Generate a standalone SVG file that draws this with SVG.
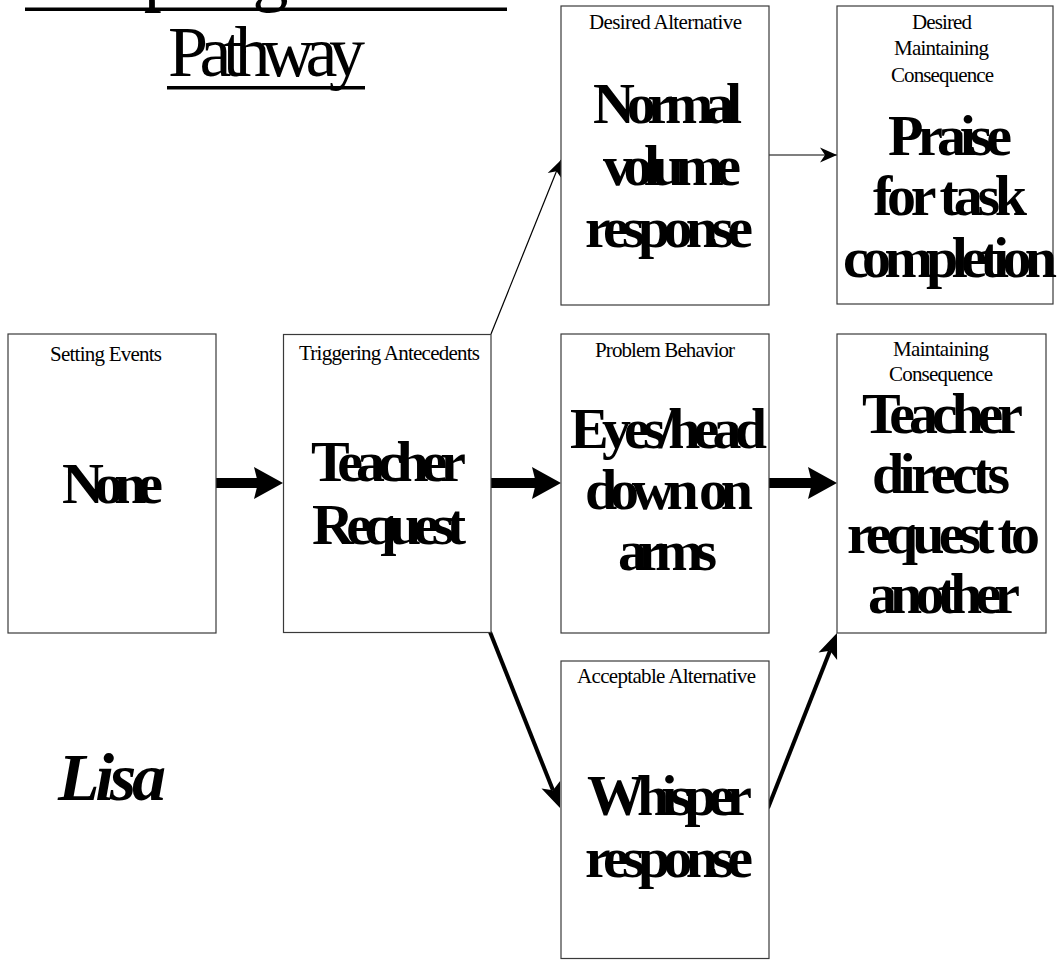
<svg xmlns="http://www.w3.org/2000/svg" width="1058" height="960" viewBox="0 0 1058 960">
  <style>
    .box { fill: #ffffff; stroke: #3a3a3a; stroke-width: 1.2; }
    .lbl { font-family: "Liberation Serif", "Times New Roman", serif; font-size: 21px; fill: #000; }
    .big { font-family: "Liberation Serif", "Times New Roman", serif; font-size: 58px; font-weight: bold; fill: #000; }
    .title { font-family: "Liberation Serif", "Times New Roman", serif; font-size: 72px; fill: #000; }
    .name { font-family: "Liberation Serif", "Times New Roman", serif; font-size: 68px; font-weight: bold; font-style: italic; fill: #000; }
    .thin { stroke: #000; stroke-width: 1.2; fill: none; marker-end: url(#headThin); }
    .mid { stroke: #000; stroke-width: 4; fill: none; marker-end: url(#headMid); }
    .thick { stroke: #000; stroke-width: 10; fill: none; marker-end: url(#headThick); }
  </style>
  <defs>
    <marker id="headThin" markerUnits="userSpaceOnUse" markerWidth="17" markerHeight="15" refX="17" refY="7.5" orient="auto" overflow="visible">
      <path d="M0,0 L17,7.5 L0,15 L5,7.5 z" fill="#000"/>
    </marker>
    <marker id="headMid" markerUnits="userSpaceOnUse" markerWidth="25" markerHeight="20" refX="6" refY="10" orient="auto" overflow="visible">
      <path d="M0,0 L25,10 L0,20 L6,10 z" fill="#000"/>
    </marker>
    <marker id="headThick" markerUnits="userSpaceOnUse" markerWidth="29" markerHeight="32" refX="4" refY="16" orient="auto" overflow="visible">
      <path d="M0,0 L29,16 L0,32 L4,16 z" fill="#000"/>
    </marker>
  </defs>

  <rect width="1058" height="960" fill="#ffffff"/>

  <!-- title, top line runs off the page -->
  <g id="title">
    <text class="title" x="25" y="-2" textLength="482" lengthAdjust="spacing">Competing Behavior</text>
    <rect x="25" y="7.5" width="482" height="3.5" fill="#000"/>
    <text class="title" x="168" y="76" textLength="197" lengthAdjust="spacing">Pathway</text>
    <rect x="167" y="86" width="198" height="3.5" fill="#000"/>
  </g>

  <g id="student">
    <text class="name" x="58" y="800" textLength="108" lengthAdjust="spacing">Lisa</text>
  </g>

  <g id="connectors">
    <line class="thick" x1="216" y1="483" x2="258" y2="483"/>
    <line class="thick" x1="491" y1="483" x2="536" y2="483"/>
    <line class="thick" x1="769" y1="483" x2="812" y2="483"/>
    <line class="thin" x1="491" y1="334" x2="561" y2="160"/>
    <line class="thin" x1="769" y1="155" x2="837" y2="155"/>
    <line class="mid" x1="490" y1="632" x2="553" y2="790.3"/>
    <line class="mid" x1="768" y1="808" x2="830" y2="650.7"/>
  </g>

  <g id="setting-events">
    <rect class="box" x="8" y="334" width="208" height="299"/>
    <text class="lbl" x="50" y="361" textLength="112" lengthAdjust="spacing">Setting Events</text>
    <text class="big" x="62" y="503" textLength="101" lengthAdjust="spacing">None</text>
  </g>

  <g id="triggering-antecedents">
    <rect class="box" x="283.5" y="334.5" width="207.5" height="298"/>
    <text class="lbl" x="299" y="360" textLength="181" lengthAdjust="spacing">Triggering Antecedents</text>
    <text class="big" x="311" y="481" textLength="155" lengthAdjust="spacing">Teacher</text>
    <text class="big" x="312" y="544" textLength="154" lengthAdjust="spacing">Request</text>
  </g>

  <g id="problem-behavior">
    <rect class="box" x="561" y="334" width="208" height="299"/>
    <text class="lbl" x="595" y="357" textLength="140" lengthAdjust="spacing">Problem Behavior</text>
    <text class="big" x="570" y="448" textLength="197" lengthAdjust="spacing">Eyes/head</text>
    <text class="big" x="585" y="509" textLength="168" lengthAdjust="spacing">down on</text>
    <text class="big" x="618" y="570" textLength="99" lengthAdjust="spacing">arms</text>
  </g>

  <g id="maintaining-consequence">
    <rect class="box" x="837" y="334" width="209" height="299"/>
    <text class="lbl" x="893" y="356" textLength="96" lengthAdjust="spacing">Maintaining</text>
    <text class="lbl" x="889" y="381" textLength="104" lengthAdjust="spacing">Consequence</text>
    <text class="big" x="862" y="433" textLength="161" lengthAdjust="spacing">Teacher</text>
    <text class="big" x="872" y="493" textLength="138" lengthAdjust="spacing">directs</text>
    <text class="big" x="847" y="553" textLength="193" lengthAdjust="spacing">request to</text>
    <text class="big" x="868" y="613" textLength="152" lengthAdjust="spacing">another</text>
  </g>

  <g id="desired-alternative">
    <rect class="box" x="561" y="6" width="208" height="299"/>
    <text class="lbl" x="589" y="29" textLength="153" lengthAdjust="spacing">Desired Alternative</text>
    <text class="big" x="593" y="123" textLength="149" lengthAdjust="spacing">Normal</text>
    <text class="big" x="603" y="185" textLength="138" lengthAdjust="spacing">volume</text>
    <text class="big" x="585" y="247" textLength="168" lengthAdjust="spacing">response</text>
  </g>

  <g id="desired-maintaining-consequence">
    <rect class="box" x="837" y="6" width="216" height="298"/>
    <text class="lbl" x="912" y="29" textLength="60" lengthAdjust="spacing">Desired</text>
    <text class="lbl" x="894" y="55" textLength="95" lengthAdjust="spacing">Maintaining</text>
    <text class="lbl" x="891" y="82" textLength="103" lengthAdjust="spacing">Consequence</text>
    <text class="big" x="888" y="155" textLength="124" lengthAdjust="spacing">Praise</text>
    <text class="big" x="873" y="215" textLength="154" lengthAdjust="spacing">for task</text>
    <text class="big" x="843" y="277" textLength="214" lengthAdjust="spacing">completion</text>
  </g>

  <g id="acceptable-alternative">
    <rect class="box" x="561" y="661" width="208" height="297.5"/>
    <text class="lbl" x="577" y="683" textLength="179" lengthAdjust="spacing">Acceptable Alternative</text>
    <text class="big" x="587" y="815" textLength="165" lengthAdjust="spacing">Whisper</text>
    <text class="big" x="585" y="877" textLength="168" lengthAdjust="spacing">response</text>
  </g>
</svg>
